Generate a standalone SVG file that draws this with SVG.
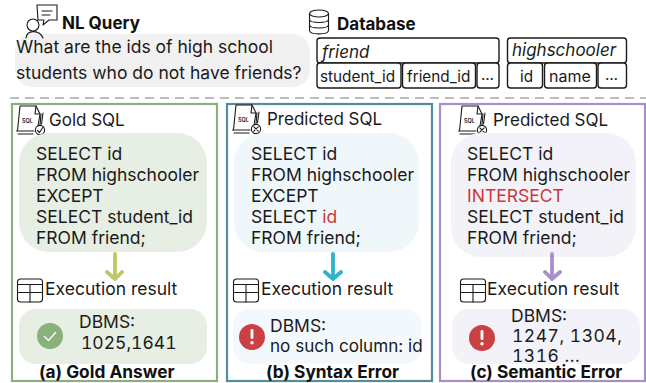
<svg xmlns="http://www.w3.org/2000/svg" width="646" height="383" viewBox="0 0 646 383">
<style>
text{font-family:Inter,"Liberation Sans",sans-serif;font-size:17.5px;fill:#1a1a1a}
.t{font-size:17px}
.b{font-weight:700;fill:#111;font-size:17.300px}
.i{font-style:italic;font-size:17px}
.c{font-size:15.300px}
.d{font-size:15px}
.n{font-variant-numeric:tabular-nums;font-feature-settings:"tnum"}
.ln{fill:none;stroke:#1a1a1a;stroke-width:1.1;stroke-linecap:round;stroke-linejoin:round}
.cell{fill:#fff;stroke:#1a1a1a;stroke-width:1.4}
.panel{fill:#fff;stroke-width:2.2}
.arrow{fill:none;stroke-width:3.8;stroke-linecap:round;stroke-linejoin:round}
.err{fill:#cb4043}
.red{fill:#c9383a}
.mini{font-size:5.500px;font-weight:600}
</style>
<defs>
<g id="doc" class="ln">
<path d="M4 1H20L24 9L22 21M4 1L2 21C2 24 1.500 25 1 26"/><path d="M20 1L19 9H24"/>
<path d="M27 8L25.500 19M25 9L24 20M1 26H18M2 29H17"/>
<circle cx="24" cy="25" r="4.600"/>
</g>
<g id="table" class="ln">
<rect x="0" y="0" width="25" height="23" rx="3"/><path d="M0 5.500H25M0 13.500H25M12.500 5.500V23"/>
</g>
<g id="erricon"><circle r="13" class="err"/><rect x="-1.400" y="-8" width="2.800" height="10" rx="1.200" fill="#fff"/><circle cy="5.800" r="1.700" fill="#fff"/></g>
</defs>

<g id="nl-query">
<rect x="15" y="34" width="295" height="53" rx="17" fill="#f1f1f1"/>
<g class="ln"><circle cx="33" cy="25" r="6"/><path d="M26 38C27 30 39 29 43 38"/><path d="M37 5H57V20H49L43 25L44 20H38Z"/><path d="M42 11H52M42 15H50"/></g>
<text x="62" y="29" class="b" style="font-size:17px">NL Query</text>
<text x="16" y="53">What are the ids of high school</text>
<text x="16" y="79">students who do not have friends?</text>
</g>

<g id="database">
<g class="ln"><ellipse cx="319" cy="13.500" rx="9.500" ry="3.500"/><path d="M309.500 13.500V30.500C310 35 328 35 328.500 30.500V13.500M309.500 19.500C310 23.500 328 23.500 328.500 19.500M309.500 25C310 29 328 29 328.500 25"/></g>
<text x="337" y="30" class="b" style="font-size:17px">Database</text>
<rect class="cell" x="317" y="38" width="182" height="25" rx="3"/>
<rect class="cell" x="317" y="63" width="84" height="25" rx="3"/>
<rect class="cell" x="402.500" y="63" width="73" height="25" rx="3"/>
<rect class="cell" x="477" y="63" width="22" height="25" rx="3"/>
<rect class="cell" x="507.500" y="38" width="119" height="25" rx="3"/>
<rect class="cell" x="507.500" y="63" width="35" height="25" rx="3"/>
<rect class="cell" x="544.500" y="63" width="52" height="25" rx="3"/>
<rect class="cell" x="598" y="63" width="28.500" height="25" rx="3"/>
<text x="322" y="58" class="i">friend</text>
<text x="512" y="56" class="i">highschooler</text>
<text x="320" y="82" class="c">student_id</text>
<text x="407" y="82" class="c">friend_id</text>
<text x="481" y="80" class="d">…</text>
<text x="520" y="82" class="c">id</text>
<text x="549" y="82" class="c" style="font-size:16px">name</text>
<text x="605" y="80" class="d">…</text>
</g>

<path id="divider" d="M10 98H646" stroke="#bdbdbd" stroke-width="2" stroke-dasharray="9 6" fill="none"/>

<g id="panel-a">
<rect class="panel" x="12" y="104" width="205" height="277" stroke="#8ab07c"/>
<g transform="translate(16 105)"><use href="#doc"/><text x="6" y="18" class="mini">SQL</text><path class="ln" d="M21.500 25.500L23.500 27.500L26.800 22.500"/></g>
<text x="49" y="126" class="t">Gold SQL</text>
<rect x="19" y="133" width="188" height="119" rx="30" fill="#e7eee3"/>
<text x="36" y="160">SELECT id</text><text x="36" y="181">FROM highschooler</text><text x="36" y="202">EXCEPT</text><text x="36" y="223">SELECT student_id</text><text x="36" y="244">FROM friend;</text>
<path class="arrow" stroke="#bcc965" d="M115 254V279M107 272L115 279L122 272"/>
<use href="#table" x="17.500" y="279"/>
<text x="45" y="295">Execution result</text>
<rect x="19" y="309" width="188" height="55" rx="17" fill="#e7eee3"/>
<circle cx="50" cy="336" r="13" fill="#8ab07c"/><path d="M44 336L48.500 340.500L56 332" fill="none" stroke="#fff" stroke-width="1.200"/>
<text x="79" y="328">DBMS:</text><text x="81" y="349" class="n">1025,1641</text>
<text x="39" y="378" class="b">(a) Gold Answer</text>
</g>

<g id="panel-b">
<rect class="panel" x="227" y="104" width="205" height="277" stroke="#4f8f9f"/>
<g transform="translate(232 104)"><use href="#doc"/><text x="6" y="18" class="mini">SQL</text><path class="ln" d="M21.800 22.800L26.200 27.200M26.200 22.800L21.800 27.200"/></g>
<text x="267" y="125" class="t">Predicted SQL</text>
<rect x="234" y="133" width="185" height="119" rx="30" fill="#eff7fa"/>
<text x="251" y="160">SELECT id</text><text x="251" y="181">FROM highschooler</text><text x="251" y="202">EXCEPT</text><text x="251" y="223">SELECT <tspan class="red">id</tspan></text><text x="251" y="244">FROM friend;</text>
<path class="arrow" stroke="#2fb2cb" d="M333 254V279M325 272L333 279L341 272"/>
<use href="#table" x="233.500" y="279"/>
<text x="261" y="295">Execution result</text>
<rect x="233" y="309" width="189" height="55" rx="17" fill="#f2f8fb"/>
<use href="#erricon" x="252" y="337"/>
<text x="270" y="332">DBMS:</text><text x="270" y="352" style="font-size:17.100px">no such column: id</text>
<text x="266" y="378" class="b">(b) Syntax Error</text>
</g>

<g id="panel-c">
<rect class="panel" x="440" y="104" width="205" height="277" stroke="#a78fc9"/>
<g transform="translate(458 105)"><use href="#doc"/><text x="6" y="18" class="mini">SQL</text><path class="ln" d="M21.800 22.800L26.200 27.200M26.200 22.800L21.800 27.200"/></g>
<text x="493" y="126" class="t">Predicted SQL</text>
<rect x="451" y="133" width="185" height="124" rx="30" fill="#f4f2f9"/>
<text x="467" y="160">SELECT id</text><text x="467" y="181">FROM highschooler</text><text x="467" y="202" class="red">INTERSECT</text><text x="467" y="223">SELECT student_id</text><text x="467" y="244">FROM friend;</text>
<path class="arrow" stroke="#a78fc9" d="M552 254V279M545 272L552 279L560 272"/>
<use href="#table" x="460.500" y="279"/>
<text x="487" y="295">Execution result</text>
<rect x="452" y="309" width="188" height="55" rx="17" fill="#f4f2f9"/>
<use href="#erricon" x="482" y="338"/>
<text x="511" y="322">DBMS:</text><text x="512" y="342" class="n" style="letter-spacing:.5px">1247, 1304,</text><text x="512" y="362" class="n" style="letter-spacing:.5px">1316 ...</text>
<text x="470" y="378" class="b">(c) Semantic Error</text>
</g>
</svg>
